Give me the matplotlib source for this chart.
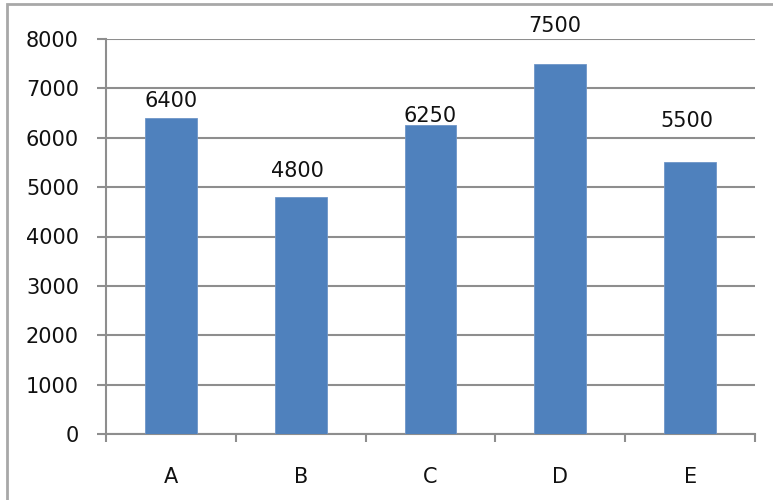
import matplotlib
matplotlib.use("Agg")
import matplotlib.pyplot as plt
from matplotlib.patches import Rectangle

categories = ["A", "B", "C", "D", "E"]
values = [6400, 4800, 6250, 7500, 5500]
yticks = [0, 1000, 2000, 3000, 4000, 5000, 6000, 7000, 8000]
# label offsets (points) relative to bar tops, as placed in the original
label_dx = [0, -2, 0, -4, -2]
label_dy = [12, 19, 7, 27, 30]

plt.rcParams['font.family'] = ['DejaVu Sans']
W, H = 773, 500
fig = plt.figure(figsize=(W / 100, H / 100), dpi=100)
ax = fig.add_axes([106 / W, 1 - 434 / H, (755 - 106) / W, (434 - 39) / H])

grid_c = '#8e8e8e'
fs = 15
x = list(range(len(categories)))
ax.bar(x, values, width=0.4, color='#4F81BD', edgecolor='#6f96c8', linewidth=0.6, zorder=3)
ax.set_xlim(-0.5, len(categories) - 0.5)
ax.set_ylim(0, 8000)
ax.set_yticks(yticks)
ax.set_yticklabels([str(v) for v in yticks], fontsize=fs, color='#111111')
ax.yaxis.grid(True, color=grid_c, linewidth=1.5, zorder=0)
ax.set_axisbelow(True)

ax.set_xticks(x)
ax.set_xticklabels(categories, fontsize=fs, color='#111111')
ax.set_xticks([i - 0.5 for i in range(len(categories) + 1)], minor=True)
ax.tick_params(axis='x', which='major', length=0, pad=24)
ax.tick_params(axis='x', which='minor', length=6, width=1.5, color=grid_c, direction='out')
ax.tick_params(axis='y', length=6.5, width=1.5, color=grid_c, pad=13)

for s in ['top', 'right']:
    ax.spines[s].set_visible(False)
for s in ['left', 'bottom']:
    ax.spines[s].set_color(grid_c)
    ax.spines[s].set_linewidth(1.5)

for xi, v, dx, dy in zip(x, values, label_dx, label_dy):
    ax.annotate(str(v), (xi, v), xytext=(dx, dy), textcoords='offset points',
                ha='center', va='center', fontsize=fs, color='#111111')

fig.patches.append(Rectangle((7 / W, -0.1), 1.2, 1.1 - 4 / H, transform=fig.transFigure,
                             fill=False, edgecolor='#a8a8a8', linewidth=2, zorder=0))

fig.savefig('out.png', dpi=100)
